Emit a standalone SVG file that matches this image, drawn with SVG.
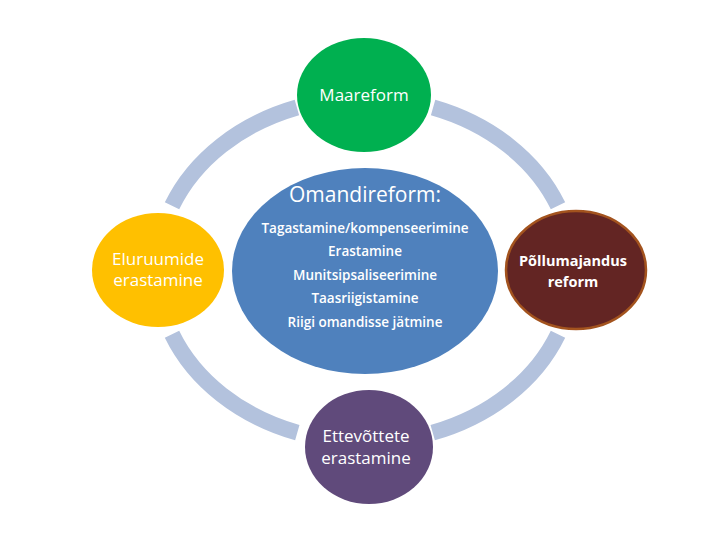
<svg xmlns="http://www.w3.org/2000/svg" width="720" height="540" viewBox="0 0 720 540">
<style>
.ring{fill:none;stroke:#b3c2dd;stroke-width:16;stroke-linecap:butt}
.t{fill:#ffffff;font-family:"Open Sans","Noto Sans",sans-serif;text-anchor:middle}
.n{font-size:17px}
.b{font-size:14.5px;font-weight:bold}
.l{font-size:13.5px;font-weight:600}
</style>
<rect width="720" height="540" fill="#ffffff"/>
<g id="connectors">
<path class="ring" d="M172,205.8 A208,172 0 0 1 296.9,107.5"/>
<path class="ring" d="M433.1,107.5 A208,172 0 0 1 558,205.8"/>
<path class="ring" d="M558,334.2 A208,172 0 0 1 432.7,432.6"/>
<path class="ring" d="M297.3,432.6 A208,172 0 0 1 172,334.2"/>
</g>
<g id="maareform">
<ellipse cx="364" cy="95" rx="67" ry="57" fill="#00b050"/>
<text class="t n" x="364" y="101">Maareform</text>
</g>
<g id="eluruumide">
<ellipse cx="158" cy="270" rx="66" ry="57" fill="#ffc000"/>
<text class="t n" x="158" y="265">Eluruumide</text>
<text class="t n" x="158" y="286">erastamine</text>
</g>
<g id="pollumajandus">
<ellipse cx="576" cy="270" rx="70" ry="59" fill="#632523" stroke="#a3531e" stroke-width="2.5"/>
<text class="t b" x="573" y="266">Põllumajandus</text>
<text class="t b" x="573" y="287">reform</text>
</g>
<g id="ettevottete">
<ellipse cx="369" cy="447" rx="64" ry="57" fill="#604a7b"/>
<text class="t n" x="366" y="442">Ettevõttete</text>
<text class="t n" x="366" y="464">erastamine</text>
</g>
<g id="omandireform">
<ellipse cx="365" cy="271" rx="133" ry="103" fill="#4f81bd"/>
<text class="t" x="365" y="202" font-size="21">Omandireform:</text>
<text class="t l" x="365" y="233">Tagastamine/kompenseerimine</text>
<text class="t l" x="365" y="256">Erastamine</text>
<text class="t l" x="365" y="280">Munitsipsaliseerimine</text>
<text class="t l" x="365" y="303">Taasriigistamine</text>
<text class="t l" x="365" y="327">Riigi omandisse jätmine</text>
</g>
</svg>
